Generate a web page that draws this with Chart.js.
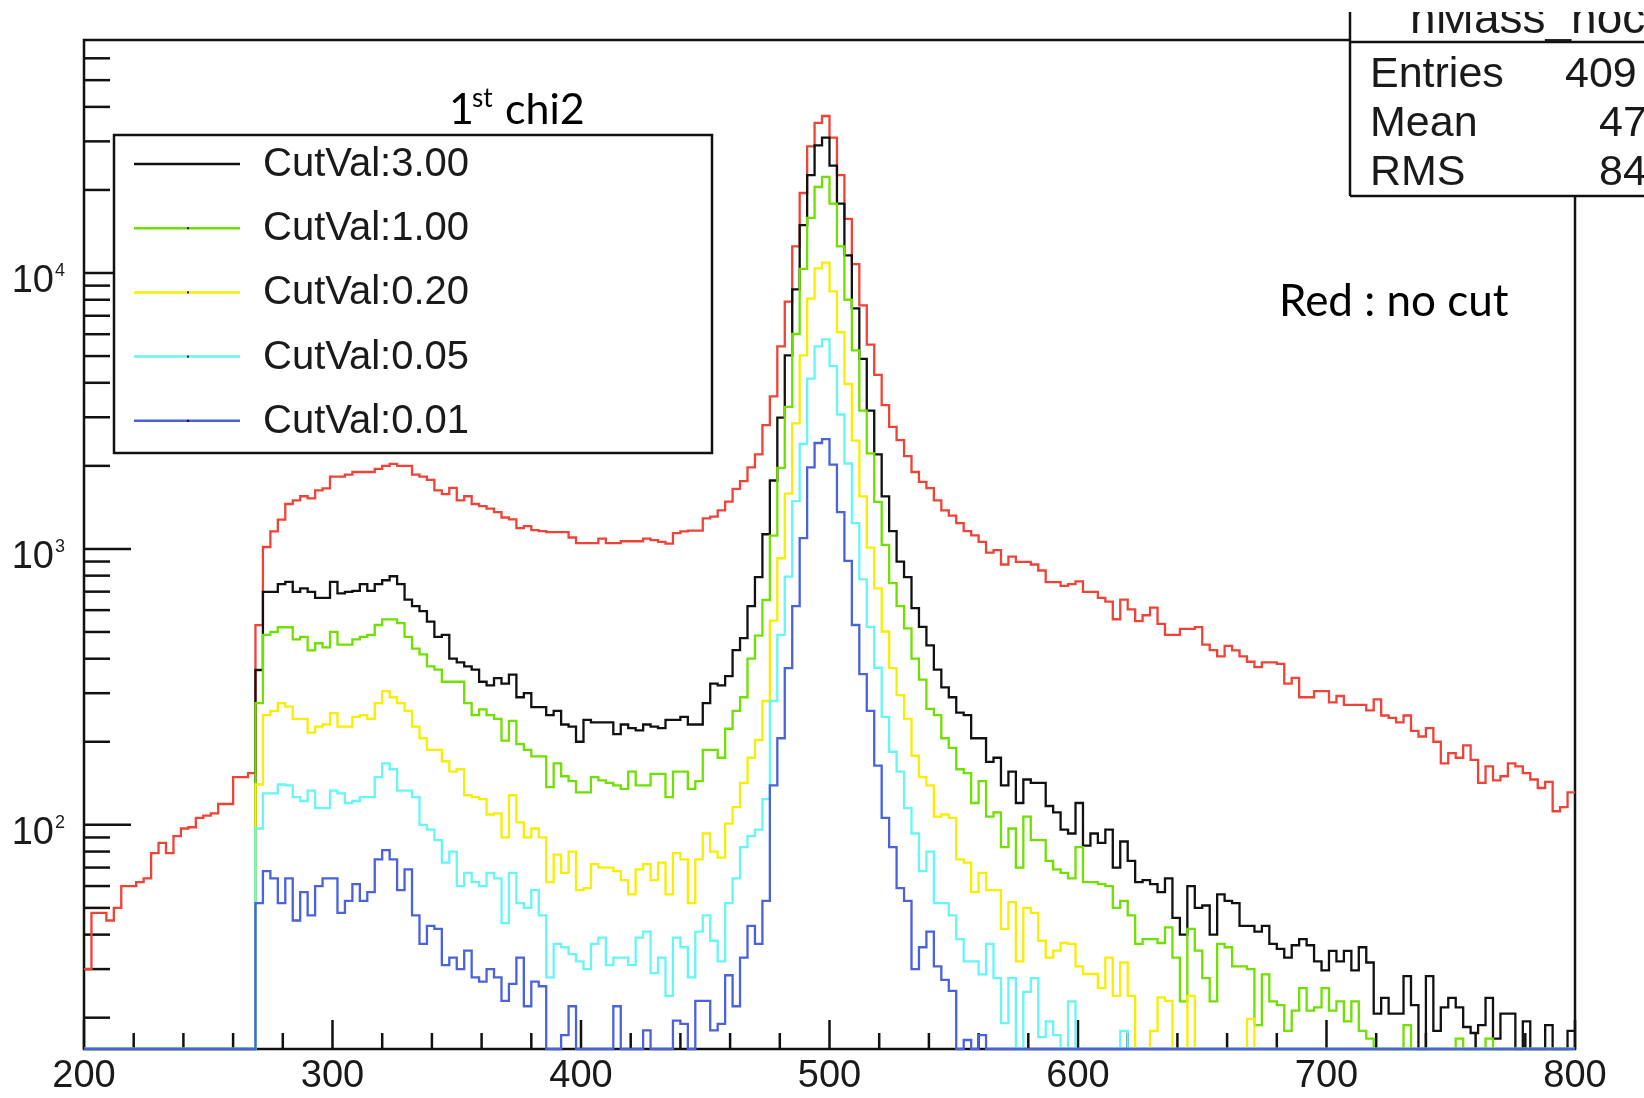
<!DOCTYPE html>
<html>
<head>
<meta charset="utf-8">
<script src="https://cdn.jsdelivr.net/npm/chart.js@4.4.1/dist/chart.umd.min.js"></script>
<style>
  html, body { margin: 0; padding: 0; background: #fff; }
  #wrap { width: 1644px; height: 1098px; }
</style>
</head>
<body>
<div id="wrap"><canvas id="c" width="1644" height="1098"></canvas></div>
<script>
// binning of the mass histograms (200 bins of 3 from 200 to 800)
const binLow = 200;
const binWidth = 3;

// axis ranges
const xMin = 200, xMax = 800;
const yMin = 15.4, yMax = 69900;
const xTickLabels = [200, 300, 400, 500, 600, 700, 800];
const yTickPowers = [2, 3, 4];

// red : no cut
const noCut = [
  30, 48, 48, 45, 50, 60, 60, 62, 64, 79, 86, 79, 91, 97, 98, 106, 108, 110, 119, 119,
  149, 149, 154, 529, 1016, 1158, 1276, 1455, 1500, 1552, 1525, 1630, 1656, 1827, 1827, 1860, 1900, 1900, 1900, 1950,
  2000, 2033, 2000, 2000, 1860, 1827, 1780, 1630, 1580, 1665, 1500, 1552, 1455, 1430, 1400, 1360, 1300, 1280, 1190, 1210,
  1170, 1160, 1150, 1150, 1150, 1100, 1050, 1050, 1050, 1090, 1050, 1050, 1066, 1066, 1066, 1090, 1077, 1060, 1045, 1140,
  1158, 1165, 1165, 1290, 1310, 1380, 1485, 1650, 1760, 1975, 2200, 2810, 3570, 5420, 7870, 12480, 19500, 28750, 35000, 37070,
  30970, 22650, 15700, 10760, 7630, 5500, 4270, 3320, 2770, 2480, 2170, 1900, 1750, 1660, 1500, 1380, 1320, 1240, 1160, 1120,
  1060, 970, 990, 878, 937, 898, 898, 878, 835, 758, 758, 734, 746, 763, 699, 699, 665, 644, 556, 655,
  604, 547, 575, 613, 535, 488, 488, 513, 513, 521, 450, 430, 408, 445, 429, 408, 390, 373, 388, 388,
  383, 325, 341, 290, 290, 305, 305, 278, 293, 272, 272, 272, 260, 285, 249, 244, 235, 249, 219, 209,
  224, 200, 167, 182, 175, 194, 172, 142, 163, 145, 150, 167, 163, 154, 146, 136, 143, 112, 116, 131
];

// CutVal:3.00
const cut300 = [
  0, 0, 0, 0, 0, 0, 0, 0, 0, 0, 0, 0, 0, 0, 0, 0, 0, 0, 0, 0,
  0, 0, 0, 364, 699, 699, 745, 760, 699, 720, 699, 665, 665, 760, 690, 699, 705, 745, 705, 745,
  770, 796, 745, 655, 620, 595, 545, 480, 488, 400, 388, 375, 365, 330, 320, 340, 325, 350, 290, 300,
  267, 267, 250, 259, 231, 227, 200, 240, 235, 235, 235, 213, 231, 224, 220, 231, 227, 224, 240, 240,
  246, 231, 231, 276, 325, 320, 346, 430, 475, 620, 790, 1130, 1770, 2990, 5030, 8730, 14920, 22650, 29000, 30970,
  24500, 17830, 11580, 7450, 4880, 3170, 2200, 1550, 1160, 900, 790, 610, 522, 447, 365, 315, 290, 255, 250, 206,
  206, 169, 175, 139, 156, 120, 146, 142, 142, 117, 111, 96, 93, 120, 84, 93, 86, 96, 70, 87,
  74, 62, 63, 61, 57, 64, 46, 40, 60, 50, 51, 40, 56, 53, 52, 43, 43, 41, 43, 37,
  35.5, 33, 36.6, 38.5, 36.6, 32, 29.7, 34.9, 32, 34.9, 29.7, 36, 31.7, 20.7, 23.6, 20.7, 20.7, 28.3, 22.2, 0,
  28.3, 17.9, 21.8, 23.6, 21.8, 18.5, 17.6, 18.8, 23.6, 16.8, 20.7, 20.7, 0, 19.4, 0, 0, 18.8, 0, 0, 17.9
];

// CutVal:1.00
const cut100 = [
  0, 0, 0, 0, 0, 0, 0, 0, 0, 0, 0, 0, 0, 0, 0, 0, 0, 0, 0, 0,
  0, 0, 0, 276, 488, 500, 520, 520, 470, 480, 429, 455, 440, 500, 450, 450, 470, 480, 488, 530,
  555, 555, 538, 480, 435, 415, 375, 365, 330, 330, 330, 276, 250, 262, 250, 242, 202, 238, 196, 187,
  177, 177, 137, 167, 150, 144, 131, 131, 149, 145, 142, 139, 135, 156, 139, 139, 153, 153, 126, 156,
  156, 135, 144, 187, 187, 175, 223, 259, 290, 400, 485, 653, 1117, 1965, 3270, 6010, 10350, 15830, 20500, 22320,
  17830, 12480, 8000, 5240, 3170, 2220, 1480, 1035, 752, 620, 515, 400, 336, 263, 250, 206, 190, 159, 154, 120,
  144, 107, 111, 83, 97, 70, 107, 88, 88, 74, 69, 67, 64, 83, 62, 62, 61, 60, 50, 53,
  47, 37, 38.5, 38.5, 37.3, 42.5, 33, 22.9, 42, 35, 27.8, 22.9, 37, 36, 30.7, 30.7, 30, 18.8, 28.7, 22.9,
  22.2, 17.9, 21.2, 25.6, 21.2, 21.8, 25.6, 21.2, 22.9, 19.4, 22.9, 17.9, 16.8, 0, 0, 0, 0, 18.8, 0, 0,
  0, 0, 0, 0, 16.8, 0, 0, 0, 16.8, 0, 0, 0, 0, 0, 0, 0, 0, 0, 0, 0
];

// CutVal:0.20
const cut020 = [
  0, 0, 0, 0, 0, 0, 0, 0, 0, 0, 0, 0, 0, 0, 0, 0, 0, 0, 0, 0,
  0, 0, 0, 140, 250, 259, 276, 268, 242, 242, 216, 227, 231, 254, 227, 227, 246, 250, 242, 276,
  305, 290, 276, 259, 227, 206, 187, 187, 170, 156, 159, 128, 126, 124, 109, 110, 90, 128, 102, 90,
  97, 90, 62, 78, 67, 80, 58, 59, 72, 70, 70, 68, 63, 56, 69, 72, 63, 73, 56, 79,
  75, 52, 75, 93, 80, 76, 101, 116, 142, 175, 203, 281, 550, 925, 1585, 2850, 5030, 8080, 10400, 10910,
  8580, 6100, 3960, 2470, 1550, 1010, 720, 502, 370, 295, 242, 178, 149, 139, 107, 109, 106, 75, 73, 57,
  67, 58, 58, 42, 52.5, 32, 50, 48, 38, 33, 35, 37.3, 37, 30.7, 28.8, 28.8, 25.6, 33, 24, 31.7,
  24, 0, 0, 17.9, 23.7, 23, 0, 0, 24, 0, 0, 0, 0, 0, 0, 0, 19.8, 0, 0, 0,
  0, 0, 0, 0, 0, 0, 0, 0, 0, 0, 0, 0, 0, 0, 0, 0, 0, 0, 0, 0,
  0, 0, 0, 0, 0, 0, 0, 0, 0, 0, 0, 0, 0, 0, 0, 0, 0, 0, 0, 0
];

// CutVal:0.05
const cut005 = [
  0, 0, 0, 0, 0, 0, 0, 0, 0, 0, 0, 0, 0, 0, 0, 0, 0, 0, 0, 0,
  0, 0, 0, 97, 130, 130, 140, 139, 126, 122, 133, 115, 115, 133, 130, 120, 122, 126, 126, 149,
  167, 159, 133, 133, 126, 100, 96, 88, 73, 80, 60, 67, 62, 60, 67, 64, 44, 67, 52, 50,
  58, 47, 28, 37, 36, 34, 32, 30, 37, 39, 31, 33, 33, 31, 39, 41, 29, 33, 24, 39,
  36, 28, 41, 47, 38, 32, 52, 64, 83, 91, 96, 124, 281, 488, 793, 1490, 2400, 4140, 5420, 5750,
  4600, 3070, 2040, 1240, 776, 522, 371, 246, 184, 156, 115, 93, 68, 80, 52, 52, 47, 38.5, 32, 32,
  28.7, 37, 27.8, 19.1, 27.8, 0, 24.8, 27.8, 17, 19.4, 17.3, 0, 22.9, 0, 0, 0, 0, 0, 0, 17.9,
  0, 0, 0, 0, 0, 0, 0, 0, 0, 0, 0, 0, 0, 0, 0, 0, 0, 0, 0, 0,
  0, 0, 0, 0, 0, 0, 0, 0, 0, 0, 0, 0, 0, 0, 0, 0, 0, 0, 0, 0,
  0, 0, 0, 0, 0, 0, 0, 0, 0, 0, 0, 0, 0, 0, 0, 0, 0, 0, 0, 0
];

// CutVal:0.01
const cut001 = [
  0, 0, 0, 0, 0, 0, 0, 0, 0, 0, 0, 0, 0, 0, 0, 0, 0, 0, 0, 0,
  0, 0, 0, 52, 68, 64, 52, 64, 45, 57, 47, 60, 64, 64, 48, 53, 61, 53, 57, 75,
  81, 75, 58, 69, 47, 37, 43, 42, 31, 33, 30, 35, 28, 27, 30, 28, 23, 26.5, 33, 22,
  27, 26, 0, 0, 17.3, 22, 0, 0, 0, 0, 0, 22, 0, 0, 0, 18, 0, 0, 0, 19.5,
  19, 0, 23, 23, 18, 19, 28.5, 22, 33, 43, 37, 53, 139, 206, 370, 620, 1095, 1975, 2420, 2500,
  2020, 1360, 905, 530, 352, 259, 164, 106, 83, 59, 53, 30, 36, 41, 30.7, 27.4, 25, 0, 16.6, 0,
  17.3, 0, 0, 0, 0, 0, 0, 0, 0, 0, 0, 0, 0, 0, 0, 0, 0, 0, 0, 0,
  0, 0, 0, 0, 0, 0, 0, 0, 0, 0, 0, 0, 0, 0, 0, 0, 0, 0, 0, 0,
  0, 0, 0, 0, 0, 0, 0, 0, 0, 0, 0, 0, 0, 0, 0, 0, 0, 0, 0, 0,
  0, 0, 0, 0, 0, 0, 0, 0, 0, 0, 0, 0, 0, 0, 0, 0, 0, 0, 0, 0
];

// legend / stats box texts
const legendLabels = ['CutVal:3.00', 'CutVal:1.00', 'CutVal:0.20', 'CutVal:0.05', 'CutVal:0.01'];
const statsNames = ['Entries', 'Mean', 'RMS'];
const statsValues = ['409', '47', '84'];

const rootFont = '"Liberation Sans", Arial, sans-serif';
const noteFont = 'Lato, "Open Sans", sans-serif';
const inkColor = '#1a1a1a';

// ROOT like histogram: one point per low bin edge, plus the closing edge
function histPoints(values) {
    const pts = values.map((v, i) => ({ x: binLow + i * binWidth, y: Math.max(v, yMin) }));
    const last = values[values.length - 1];
    pts.push({ x: binLow + values.length * binWidth, y: Math.max(last, yMin) });
    return pts;
}

function histDataset(label, values, color, order) {
    return {
        label: label,
        data: histPoints(values),
        borderColor: color,
        backgroundColor: color,
        borderWidth: 2.3,
        stepped: true,
        pointRadius: 0,
        fill: false,
        clip: 3,
        order: order
    };
}

const datasets = [
    histDataset('no cut', noCut, '#ef4337', 5),
    histDataset(legendLabels[0], cut300, '#111111', 4),
    histDataset(legendLabels[1], cut100, '#70e000', 3),
    histDataset(legendLabels[2], cut020, '#f7ee00', 2),
    histDataset(legendLabels[3], cut005, '#66f6f6', 1),
    histDataset(legendLabels[4], cut001, '#4a62dc', 0)
];

function strokeLine(ctx, x1, y1, x2, y2) {
    ctx.beginPath();
    ctx.moveTo(x1, y1);
    ctx.lineTo(x2, y2);
    ctx.stroke();
}

// frame and tick marks drawn inside the pad, like ROOT
const rootFrame = {
    id: 'rootFrame',
    beforeDatasetsDraw(chart) {
        const { ctx, chartArea: a, scales: { x, y } } = chart;
        ctx.save();
        ctx.strokeStyle = '#111';
        ctx.lineWidth = 2.5;
        ctx.strokeRect(a.left, a.top, a.right - a.left, a.bottom - a.top);

        for (let v = xMin; v <= xMax; v += 20) {
            const px = x.getPixelForValue(v);
            const len = v % 100 === 0 ? 29 : 16;
            strokeLine(ctx, px, a.bottom, px, a.bottom - len);
        }
        for (let e = 1; e <= 4; e++) {
            for (let d = 1; d <= 9; d++) {
                const v = d * Math.pow(10, e);
                if (v < yMin || v > yMax) continue;
                const py = y.getPixelForValue(v);
                strokeLine(ctx, a.left, py, a.left + (d === 1 ? 47 : 26), py);
            }
        }
        ctx.restore();
    },
    afterDraw(chart) {
        const { ctx, scales: { y } } = chart;
        ctx.save();
        ctx.fillStyle = inkColor;

        // y labels 10^n
        yTickPowers.forEach(p => {
            const py = y.getPixelForValue(Math.pow(10, p));
            ctx.font = '38px ' + rootFont;
            ctx.textAlign = 'right';
            ctx.textBaseline = 'alphabetic';
            ctx.fillText('10', 54, py + 19);
            ctx.font = '18px ' + rootFont;
            ctx.textAlign = 'left';
            ctx.fillText(String(p), 55, py + 3);
        });

        // legend box
        ctx.fillStyle = '#fff';
        ctx.fillRect(114, 135, 598, 318);
        ctx.strokeStyle = '#111';
        ctx.lineWidth = 2.5;
        ctx.strokeRect(114, 135, 598, 318);
        legendLabels.forEach((label, i) => {
            const ds = chart.data.datasets[i + 1];
            const ly = 164 + i * 64.2;
            ctx.strokeStyle = ds.borderColor;
            ctx.lineWidth = 2.5;
            strokeLine(ctx, 134, ly, 240, ly);
            if (i > 0) {
                ctx.fillStyle = '#111';
                ctx.fillRect(187, ly - 1, 2, 2);
            }
            ctx.fillStyle = inkColor;
            ctx.font = '40px ' + rootFont;
            ctx.textAlign = 'left';
            ctx.textBaseline = 'middle';
            ctx.fillText(label, 263, ly + 1);
        });

        // "1st chi2"
        ctx.textBaseline = 'alphabetic';
        ctx.fillStyle = '#000';
        ctx.font = '43px ' + noteFont;
        ctx.fillText('1', 449, 124);
        ctx.font = '26px ' + noteFont;
        ctx.fillText('st', 472, 107);
        ctx.font = '43px ' + noteFont;
        ctx.fillText('chi2', 505, 124);

        // "Red : no cut"
        ctx.font = '44px ' + noteFont;
        ctx.fillText('Red : no cut', 1279, 316);

        // stats box (cut by the picture border)
        ctx.fillStyle = '#fff';
        ctx.fillRect(1350, 12, 400, 184);
        ctx.strokeStyle = '#111';
        ctx.lineWidth = 2.5;
        strokeLine(ctx, 1350, 12, 1350, 196);
        strokeLine(ctx, 1350, 196, 1650, 196);
        strokeLine(ctx, 1350, 42, 1650, 42);
        ctx.fillStyle = inkColor;
        ctx.save();
        ctx.beginPath();
        ctx.rect(1352, 12, 300, 29);
        ctx.clip();
        ctx.font = '46px ' + rootFont;
        ctx.fillText('hMass_nocut', 1410, 33);
        ctx.restore();
        ctx.font = '43px ' + rootFont;
        const rowBase = [87, 136, 185];
        statsNames.forEach((n, i) => {
            ctx.fillText(n, 1370, rowBase[i]);
            ctx.fillText(statsValues[i], i === 0 ? 1565 : 1599, rowBase[i]);
        });
        ctx.restore();
    }
};

new Chart(document.getElementById('c'), {
    type: 'line',
    data: { datasets: datasets },
    options: {
        responsive: false,
        animation: false,
        devicePixelRatio: 1,
        layout: { padding: { left: 0, right: 69, top: 40, bottom: 0 } },
        plugins: { legend: { display: false }, tooltip: { enabled: false } },
        scales: {
            x: {
                type: 'linear',
                min: xMin,
                max: xMax,
                afterBuildTicks: scale => { scale.ticks = xTickLabels.map(v => ({ value: v })); },
                ticks: {
                    font: { family: rootFont, size: 38 },
                    color: inkColor,
                    padding: 5,
                    maxRotation: 0,
                    autoSkip: false
                },
                grid: { display: false, drawTicks: false },
                border: { display: false },
                afterFit: scale => { scale.height = 49; }
            },
            y: {
                type: 'logarithmic',
                min: yMin,
                max: yMax,
                ticks: { display: false },
                grid: { display: false, drawTicks: false },
                border: { display: false },
                afterFit: scale => { scale.width = 84; }
            }
        }
    },
    plugins: [rootFrame]
});
</script>
</body>
</html>
